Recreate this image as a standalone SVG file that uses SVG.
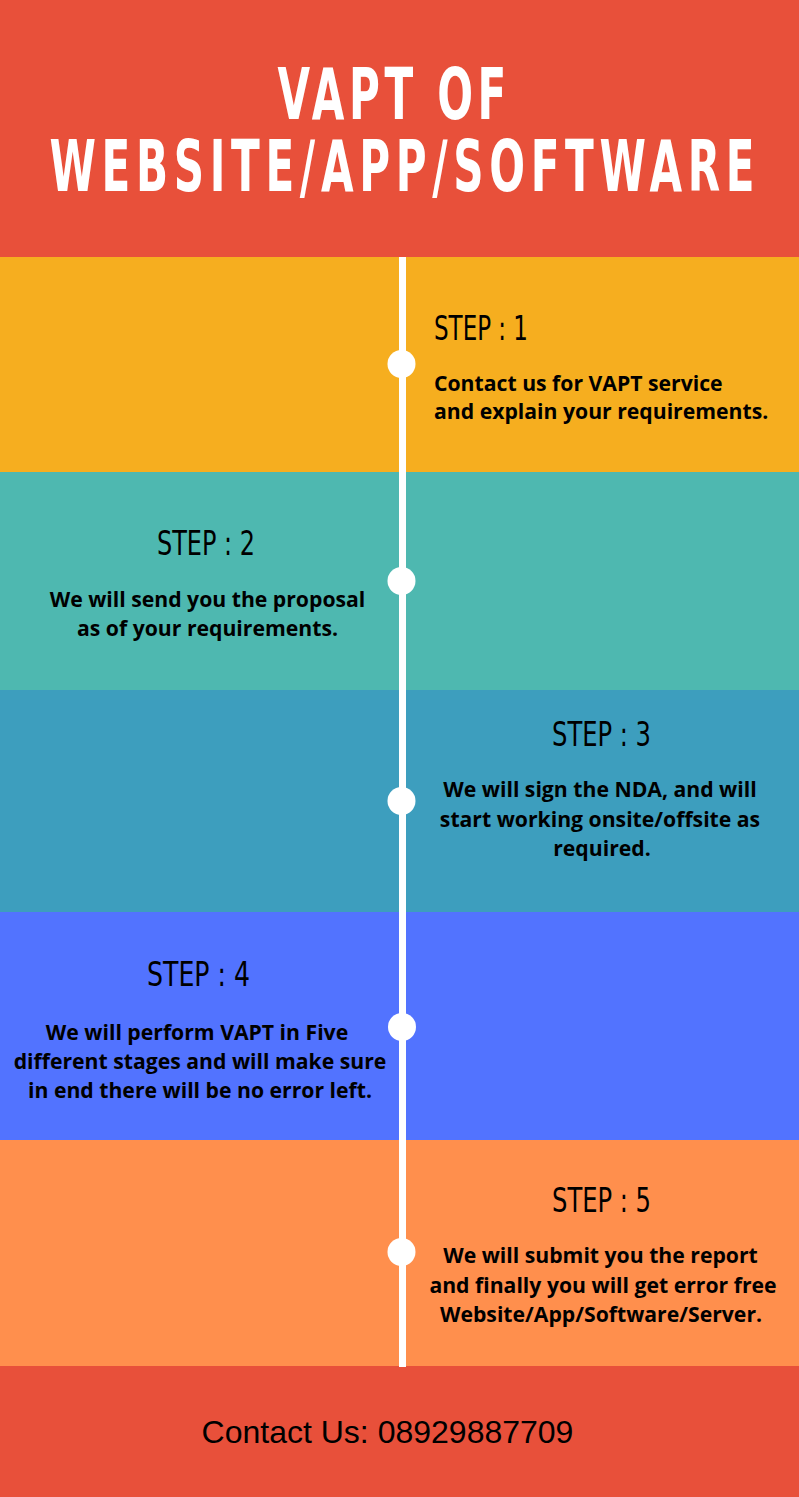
<svg xmlns="http://www.w3.org/2000/svg" width="799" height="1497" viewBox="0 0 799 1497">
<style>
.title{font-family:"DejaVu Sans Condensed","DejaVu Sans","Liberation Sans",sans-serif;font-weight:bold;font-size:72px;fill:#ffffff}
.step{font-family:"Liberation Sans Narrow","DejaVu Sans Condensed","Liberation Sans",sans-serif;font-size:34px;fill:#000000}
.body{font-family:"Open Sans","DejaVu Sans",sans-serif;font-weight:bold;font-size:21.2px;fill:#000000}
.foot{font-family:"Liberation Sans",Arial,sans-serif;font-size:32px;fill:#000000}
.dot{fill:#ffffff}
</style>
<g id="bands">
<rect x="0" y="0" width="799" height="257" fill="#E8503A"/>
<rect x="0" y="257" width="799" height="215" fill="#F6AE1F"/>
<rect x="0" y="472" width="799" height="218" fill="#4EB8B0"/>
<rect x="0" y="690" width="799" height="222" fill="#3D9EBE"/>
<rect x="0" y="912" width="799" height="228" fill="#5273FF"/>
<rect x="0" y="1140" width="799" height="226" fill="#FF8F4D"/>
<rect x="0" y="1366" width="799" height="131" fill="#E8503A"/>
</g>
<g id="title">
<text class="title" transform="translate(392,119) scale(0.65,1)" x="0" y="0" text-anchor="middle" textLength="352" lengthAdjust="spacing">VAPT OF</text>
<text class="title" transform="translate(402,191) scale(0.65,1)" x="0" y="0" text-anchor="middle" textLength="1085" lengthAdjust="spacing">WEBSITE/APP/SOFTWARE</text>
</g>
<g id="connectors">
<rect x="399" y="257" width="7" height="1110" fill="#ffffff"/>
</g>
<g id="step1">
<circle class="dot" cx="401.5" cy="364" r="14"/>
<text class="step" x="434" y="340" textLength="94" lengthAdjust="spacingAndGlyphs">STEP : 1</text>
<text class="body" x="434" y="391">Contact us for VAPT service</text>
<text class="body" x="434" y="419">and explain your requirements.</text>
</g>
<g id="step2">
<circle class="dot" cx="401.5" cy="581" r="14"/>
<text class="step" x="206" y="555" text-anchor="middle" textLength="98" lengthAdjust="spacingAndGlyphs">STEP : 2</text>
<text class="body" x="207.5" y="607" text-anchor="middle">We will send you the proposal</text>
<text class="body" x="207.5" y="636" text-anchor="middle">as of your requirements.</text>
</g>
<g id="step3">
<circle class="dot" cx="401.5" cy="801" r="14"/>
<text class="step" x="601.5" y="746" text-anchor="middle" textLength="99" lengthAdjust="spacingAndGlyphs">STEP : 3</text>
<text class="body" x="600" y="797" text-anchor="middle">We will sign the NDA, and will</text>
<text class="body" x="600" y="827" text-anchor="middle">start working onsite/offsite as</text>
<text class="body" x="602" y="856" text-anchor="middle">required.</text>
</g>
<g id="step4">
<circle class="dot" cx="402" cy="1027" r="14"/>
<text class="step" x="198.5" y="986" text-anchor="middle" textLength="103" lengthAdjust="spacingAndGlyphs">STEP : 4</text>
<text class="body" x="197" y="1040" text-anchor="middle">We will perform VAPT in Five</text>
<text class="body" x="200" y="1069" text-anchor="middle">different stages and will make sure</text>
<text class="body" x="200" y="1098" text-anchor="middle">in end there will be no error left.</text>
</g>
<g id="step5">
<circle class="dot" cx="401.5" cy="1252" r="14"/>
<text class="step" x="601.5" y="1212" text-anchor="middle" textLength="99" lengthAdjust="spacingAndGlyphs">STEP : 5</text>
<text class="body" x="600.5" y="1263" text-anchor="middle">We will submit you the report</text>
<text class="body" x="603" y="1293" text-anchor="middle">and finally you will get error free</text>
<text class="body" x="601" y="1322" text-anchor="middle">Website/App/Software/Server.</text>
</g>
<g id="footer">
<text class="foot" x="387.5" y="1443" text-anchor="middle">Contact Us: 08929887709</text>
</g>
</svg>
